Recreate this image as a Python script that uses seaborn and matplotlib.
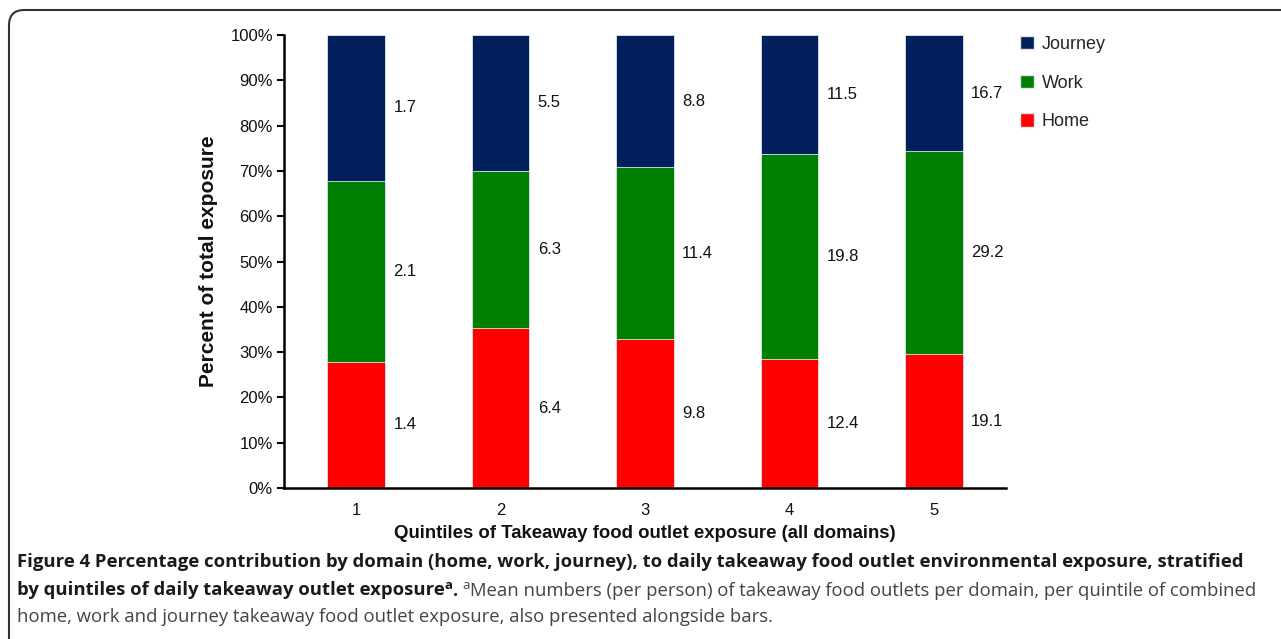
import matplotlib
matplotlib.use("Agg")
import matplotlib.pyplot as plt
import pandas as pd
import seaborn as sns
from matplotlib.patches import Patch, FancyBboxPatch

# ---- data ----
quintiles = ["1", "2", "3", "4", "5"]
home_pct = [27.9, 35.3, 32.9, 28.5, 29.5]
work_pct = [39.9, 34.7, 37.9, 45.2, 44.8]
journey_pct = [32.2, 30.0, 29.2, 26.3, 25.7]
# mean number of outlets per person, shown beside the bars
home_mean = ["1.4", "6.4", "9.8", "12.4", "19.1"]
work_mean = ["2.1", "6.3", "11.4", "19.8", "29.2"]
journey_mean = ["1.7", "5.5", "8.8", "11.5", "16.7"]

domains = ["Journey", "Work", "Home"]
colors = {"Journey": "#001F5B", "Work": "#008000", "Home": "#FF0000"}

sns.set_theme(style="white")
plt.rcParams["font.family"] = ["Liberation Sans", "DejaVu Sans"]

df = pd.DataFrame({"quintile": quintiles, "home": home_pct,
                   "work": work_pct, "journey": journey_pct})
df["home_top"] = df["home"]
df["work_top"] = df["home"] + df["work"]
df["journey_top"] = df["work_top"] + df["journey"]

fig = plt.figure(figsize=(12.81, 6.39), dpi=100)
ax = fig.add_axes([284 / 1281, 1 - 488 / 639, 722 / 1281, 453 / 639])

# stacked bars drawn back to front
for top, name in [("journey_top", "Journey"), ("work_top", "Work"), ("home_top", "Home")]:
    sns.barplot(data=df, x="quintile", y=top, order=quintiles, color=colors[name],
                width=0.4, saturation=1, edgecolor="#dfe6ee", linewidth=0.6, ax=ax)

# mean labels beside each segment
bottoms = {"Home": [0] * 5, "Work": list(df["home_top"]), "Journey": list(df["work_top"])}
tops = {"Home": list(df["home_top"]), "Work": list(df["work_top"]), "Journey": list(df["journey_top"])}
means = {"Home": home_mean, "Work": work_mean, "Journey": journey_mean}
for name in domains:
    for i in range(5):
        ymid = (bottoms[name][i] + tops[name][i]) / 2
        ax.annotate(means[name][i], (i + 0.2, ymid), xytext=(6, 0),
                    textcoords="offset points", ha="left", va="center",
                    fontsize=12, color="#111111")

ax.set_xlim(-0.5, 4.5)
ax.set_ylim(0, 100)
ax.set_yticks(range(0, 101, 10))
ax.set_yticklabels([f"{v}%" for v in range(0, 101, 10)])
ax.set_xticks(range(5))
ax.set_xticks([x - 0.5 for x in range(6)], minor=True)
ax.tick_params(axis="x", which="major", length=0, pad=11, labelsize=12, labelcolor="#111111")
ax.tick_params(axis="x", which="minor", length=5, width=1.5, direction="out", color="black")
ax.tick_params(axis="y", length=5, width=1.5, direction="out", pad=3, labelsize=12,
               color="black", labelcolor="#111111", left=True)

for side in ["top", "right"]:
    ax.spines[side].set_visible(False)
for side in ["left", "bottom"]:
    ax.spines[side].set_color("black")
    ax.spines[side].set_linewidth(1.8)

ax.set_xlabel("Quintiles of Takeaway food outlet exposure (all domains)",
              fontsize=13.4, fontweight="bold", labelpad=5, color="#111111")
ax.set_ylabel("Percent of total exposure", fontsize=15, fontweight="bold", labelpad=9,
              color="#111111")

handles = [Patch(facecolor=colors[d], edgecolor="#dfe6ee", label=d) for d in domains]
ax.legend(handles=handles, loc="upper left", bbox_to_anchor=(1.0095, 1.014), frameon=False,
          fontsize=13, handlelength=0.75, handleheight=0.75, handletextpad=0.45,
          labelspacing=1.2, borderaxespad=0)

# rounded frame around the figure panel
frame = FancyBboxPatch((9 / 1281, -0.1), 1.2, 1 - 10 / 639 + 0.1,
                       boxstyle="round,pad=0,rounding_size=0.012",
                       transform=fig.transFigure, fill=False, edgecolor="#333333",
                       linewidth=1.5, mutation_aspect=1281 / 639)
fig.patches.append(frame)

# caption, assembled piece by piece so the superscripts sit in place
cap = dict(fontsize=13.3, family=["Open Sans", "DejaVu Sans"])
bold = dict(cap, fontweight="bold", color="#1a1a1a")
reg = dict(cap, color="#444444")
sup = 9.5
fig.text(17 / 1281, 1 - 562 / 639,
         "Figure 4 Percentage contribution by domain (home, work, journey), to daily "
         "takeaway food outlet environmental exposure, stratified", va="center", **bold)
line2 = fig.text(17 / 1281, 1 - 590 / 639, "by quintiles of daily takeaway outlet exposure",
                 va="center", **bold)
a1 = ax.annotate("a", xy=(1, 0.75), xycoords=line2, va="center", ha="left",
                 **dict(bold, fontsize=sup))
d1 = ax.annotate(". ", xy=(1, 0.5), xycoords=a1, xytext=(0, -4),
                 textcoords="offset points", va="center", ha="left", **bold)
a2 = ax.annotate("a", xy=(1, 0.5), xycoords=d1, xytext=(0, 4),
                 textcoords="offset points", va="center", ha="left",
                 **dict(reg, fontsize=sup))
ax.annotate("Mean numbers (per person) of takeaway food outlets per domain, per quintile "
            "of combined", xy=(1, 0.5), xycoords=a2, xytext=(0, -4),
            textcoords="offset points", va="center", ha="left", **reg)
fig.text(17 / 1281, 1 - 617 / 639,
         "home, work and journey takeaway food outlet exposure, also presented alongside bars.",
         va="center", **reg)

fig.savefig("out.png", dpi=100)
